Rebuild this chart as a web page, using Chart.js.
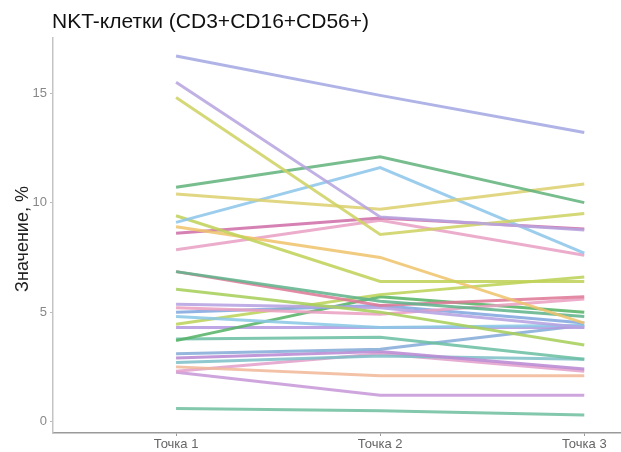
<!DOCTYPE html>
<html>
<head>
<meta charset="utf-8">
<script src="https://cdn.jsdelivr.net/npm/chart.js@4/dist/chart.umd.min.js"></script>
<style>
  html, body { margin: 0; padding: 0; background: #fff; overflow: hidden; }
  #wrap { width: 621px; height: 452px; position: relative; }
</style>
</head>
<body>
<div id="wrap"><canvas id="c" width="621" height="452"></canvas></div>
<script>
// Time points on the x axis
const categories = ['Точка 1', 'Точка 2', 'Точка 3'];

// NKT-cell share (%) for each patient at each time point
const point1 = [16.7, 15.5, 14.8, 10.7, 10.4, 9.1, 9.4, 8.9, 8.6, 7.85, 6.85, 6.85, 6.05, 5.36,
                5.2, 5.0, 4.8, 4.45, 3.7, 4.3, 3.77, 3.1, 2.9, 2.7, 2.5, 2.3, 2.25, 0.6];
const point2 = [14.9, 9.35, 8.55, 12.1, 9.7, 11.6, 6.4, 7.5, 9.3, 9.2, 5.5, 5.3, 5.0, 5.2,
                4.9, 5.3, 4.3, 5.8, 5.7, 4.3, 3.85, 3.3, 3.2, 3.0, 2.1, 3.1, 1.2, 0.5];
const point3 = [13.2, 8.75, 9.5, 10.0, 10.85, 7.7, 6.4, 4.5, 8.8, 7.6, 4.8, 5.7, 3.5, 4.3,
                5.6, 4.5, 4.4, 6.6, 5.0, 4.3, 2.85, 4.4, 2.4, 2.85, 2.1, 2.3, 1.2, 0.3];

// Y axis tick values
const yTicks = [0, 5, 10, 15];

// One colour per patient line
const lineColors = ['#a4a9e3', '#b7a5df', '#cfd363', '#64b47e', '#ddd070', '#8ec6ea', '#c2d35a',
                    '#efc46e', '#cf6fa9', '#e8a2c4', '#62b48d', '#df7a98', '#a9cf5c', '#b6a3e2',
                    '#eaa0c2', '#83a7df', '#8cc8e6', '#bcd35a', '#58b368', '#b59be0', '#6dbfa4',
                    '#86acd8', '#b98ad4', '#7fc0c8', '#f0b89a', '#e3a0cc', '#c79ad8', '#72c0a0'];

const datasets = point1.map((v, i) => ({
  data: [point1[i], point2[i], point3[i]].map((y, k) => ({ x: k + 1, y })),
  borderColor: lineColors[i] + 'e0',
  borderWidth: 3,
  pointRadius: 0,
  tension: 0,
  fill: false
}));

const FONT = '"Liberation Sans", Arial, sans-serif';

// Title and rotated y-axis title drawn onto the canvas
const textPlugin = {
  id: 'texts',
  afterDraw(chart) {
    const ctx = chart.ctx;
    ctx.save();
    ctx.fillStyle = '#111';
    ctx.font = '21px ' + FONT;
    ctx.textAlign = 'left';
    ctx.textBaseline = 'alphabetic';
    ctx.fillText('NKT-клетки (CD3+CD16+CD56+)', 52, 28);
    ctx.translate(23, 239);
    ctx.rotate(-Math.PI / 2);
    ctx.textAlign = 'center';
    ctx.textBaseline = 'middle';
    ctx.fillStyle = '#222';
    ctx.font = '18px ' + FONT;
    ctx.fillText('Значение, %', 0, 0);
    ctx.restore();
  }
};

new Chart(document.getElementById('c'), {
  type: 'line',
  data: { datasets },
  options: {
    responsive: false,
    animation: false,
    layout: { padding: { top: 38, right: 0, left: 0, bottom: 0 } },
    plugins: { legend: { display: false }, tooltip: { enabled: false } },
    scales: {
      x: {
        type: 'linear',
        min: 0.397,
        max: 3.18,
        afterBuildTicks: s => { s.ticks = [1, 2, 3].map(v => ({ value: v })); },
        afterFit: s => { s.height = 19; },
        ticks: {
          callback: v => categories[v - 1],
          color: '#666',
          font: { family: FONT, size: 13 },
          padding: 1,
          maxRotation: 0,
          autoSkip: false
        },
        grid: { drawOnChartArea: false, drawTicks: true, tickLength: 3, color: '#999' },
        border: { display: true, color: '#9a9a9a', width: 1.5 }
      },
      y: {
        type: 'linear',
        min: -0.52,
        max: 17.52,
        afterBuildTicks: s => { s.ticks = yTicks.map(v => ({ value: v })); },
        afterFit: s => { s.width = 53; },
        ticks: {
          color: '#888',
          font: { family: FONT, size: 13 },
          padding: 3
        },
        grid: { drawOnChartArea: false, drawTicks: true, tickLength: 3, color: '#bbb' },
        border: { display: true, color: '#c4c4c4', width: 1.5 }
      }
    }
  },
  plugins: [textPlugin]
});
</script>
</body>
</html>
